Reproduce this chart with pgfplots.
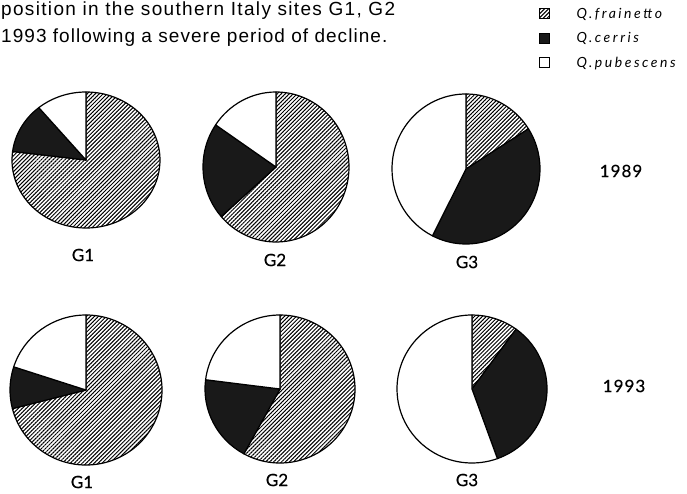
\documentclass[border=0pt]{standalone}
\usepackage{pgfplots}
\pgfplotsset{compat=1.18}
\usepackage{pgfplotstable}
\usetikzlibrary{patterns.meta}
\usepackage{fontspec}
\setmainfont{Liberation Sans}
\newfontfamily\lbl{Lato}
\newfontfamily\lblb[FakeBold=0.5]{Lato}

% one row per pie: centre (px, y down); radii rx/ry, then shares in
% percent as Q.pubescens/Q.cerris/Q.frainetto
\pgfplotstableread{
x   y    shares
86  160  74/68/11/12/77
276 167  73/75/15.5/21/63.5
466 169  74/75/42.5/41.5/16
86  390  76/75/20/9/71
280 389  75/74/23/19/58
472 389  75/74/55.5/34.5/10
}\pies

\tikzset{
  hatch/.style={pattern={Lines[angle=45,distance=2.8pt,line width=1pt]}},
  slice/.style={draw=black, line width=1.2pt, line join=round},
}
\def\pieparse#1/#2/#3/#4/#5\relax{%
  \def\rx{#1}\def\ry{#2}\def\pub{#3}\def\cer{#4}\def\fra{#5}}

\pgfplotsset{
  sq/.style={legend image code/.code={%
      \path[draw=none, fill=none] (0pt,-3.5pt) rectangle (37pt,6.5pt);
      \filldraw[#1, draw=black, line width=0.8pt] (0pt,-3.5pt) rectangle (10pt,6.5pt);
    }},
}

\begin{document}
\begin{tikzpicture}
\begin{axis}[
    width=687pt, height=494pt, scale only axis,
    xmin=0, xmax=687, ymin=0, ymax=494, y dir=reverse,
    hide axis, clip=false,
    legend style={at={(axis cs:539,8)}, anchor=north west,
      draw=none, fill=none, inner sep=0pt, row sep=11pt,
      column sep=0pt,
      nodes={inner sep=0pt, text height=10pt, text depth=3pt},
      font=\lbl\fontsize{14}{17}\selectfont\itshape\addfontfeatures{LetterSpace=18}},
    legend cell align=left,
  ]
  \addplot[only marks, scatter, mark=*, mark size=0.01pt,
    mark options={draw=none, fill=none}, forget plot,
    point meta=explicit symbolic,
    scatter/@pre marker code/.code={%
      \edef\tmp{\pgfplotspointmeta}%
      \expandafter\pieparse\tmp\relax
      \pgfmathsetmacro\angA{90+3.6*\pub}%
      \pgfmathsetmacro\angB{\angA+3.6*\cer}%
      \filldraw[hatch, slice] (0pt,0pt) -- (\angB:\rx pt and \ry pt)
        arc[start angle=\angB, end angle=450, x radius=\rx pt, y radius=\ry pt] -- cycle;
      \filldraw[fill=black!90, slice] (0pt,0pt) -- (\angA:\rx pt and \ry pt)
        arc[start angle=\angA, end angle=\angB, x radius=\rx pt, y radius=\ry pt] -- cycle;
      \filldraw[fill=white, slice] (0pt,0pt) -- (90:\rx pt and \ry pt)
        arc[start angle=90, end angle=\angA, x radius=\rx pt, y radius=\ry pt] -- cycle;
    },
    scatter/@post marker code/.code={},
  ] table[x=x, y=y, meta=shares] {\pies};

  \addlegendimage{sq={hatch}}
  \addlegendentry{Q.frainetto}
  \addlegendimage{sq={fill=black!90}}
  \addlegendentry{Q.cerris}
  \addlegendimage{sq={fill=white}}
  \addlegendentry{Q.pubescens}

  \begin{scope}[every node/.style={font=\lblb\fontsize{17}{20}\selectfont, inner sep=0pt}]
    \node at (axis cs:83,255) {G1};
    \node at (axis cs:275,260) {G2};
    \node at (axis cs:467,262) {G3};
    \node at (axis cs:82,482) {G1};
    \node at (axis cs:277,480) {G2};
    \node at (axis cs:467,480) {G3};
    \node[font=\lblb\fontsize{17}{20}\selectfont\addfontfeatures{LetterSpace=6}] at (axis cs:621,171) {1989};
    \node[font=\lblb\fontsize{17}{20}\selectfont\addfontfeatures{LetterSpace=6}] at (axis cs:624,386) {1993};
  \end{scope}
  \node[anchor=base west, inner sep=0pt,
    font=\fontsize{19}{23}\selectfont\addfontfeatures{LetterSpace=7}]
    at (axis cs:1,16) {position in the southern Italy sites G1, G2};
  \node[anchor=base west, inner sep=0pt,
    font=\fontsize{19}{23}\selectfont\addfontfeatures{LetterSpace=5.5}]
    at (axis cs:1,43) {1993 following a severe period of decline.};
\end{axis}
\pgfresetboundingbox
\useasboundingbox (0pt,0pt) rectangle (687pt,494pt);
\end{tikzpicture}
\end{document}
